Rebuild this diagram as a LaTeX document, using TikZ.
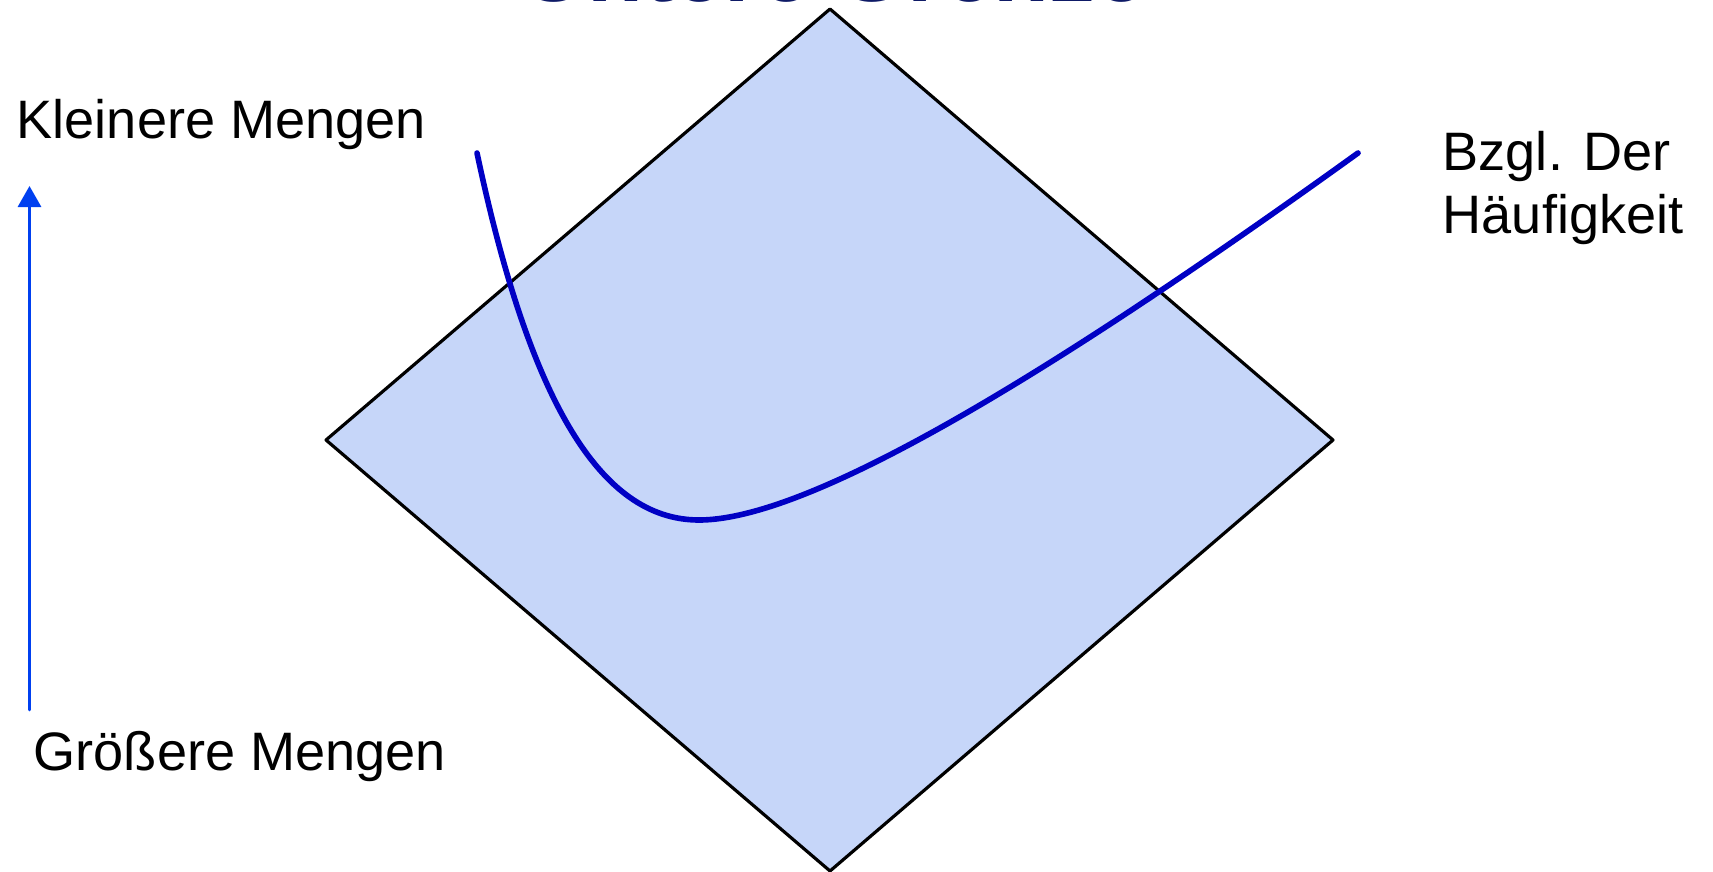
\documentclass[tikz,border=0pt]{standalone}
\usepackage{fontspec}
\setmainfont{Liberation Sans}
\usepackage{xcolor}
\usetikzlibrary{arrows.meta,positioning}

\definecolor{titlenavy}{RGB}{14,26,102}
\definecolor{axisblue}{RGB}{0,64,240}
\definecolor{curveblue}{RGB}{0,0,196}
\definecolor{paperfill}{RGB}{198,214,249}

\begin{document}
\begin{tikzpicture}[
  line cap=round,
  line join=round,
  titletext/.style={font=\fontsize{26pt}{30pt}\selectfont\bfseries,text=titlenavy,inner sep=0pt},
  label/.style={font=\fontsize{15.4pt}{17.9pt}\selectfont,inner sep=0pt,align=left},
  diamondface/.style={draw=black,line width=0.9pt,fill=paperfill},
  scaleline/.style={axisblue,line width=0.8pt,-{Triangle[width=6.6pt,length=6pt]}},
  demandcurve/.style={curveblue,line width=1.6pt}
]
\path[use as bounding box] (0,0) rectangle (17.13,8.71);

\node[titletext,anchor=base] (title) at (8.34,8.69) {Untere Grenze};

\coordinate (top) at (8.30,8.62);
\coordinate (left) at (3.26,4.31);
\coordinate (bottom) at (8.30,0.00);
\coordinate (right) at (13.33,4.31);
\draw[diamondface] (top) -- (left) -- (bottom) -- (right) -- cycle;

\coordinate (cstart) at (4.77,7.18);
\coordinate (cmin) at (6.99,3.51);
\coordinate (cend) at (13.58,7.18);
\draw[demandcurve] (cstart) .. controls (5.29,4.73) and (5.99,3.51) .. (cmin)
  .. controls (8.20,3.51) and (10.90,5.25) .. (cend);

\coordinate (axislow) at (0.295,1.61);
\coordinate (axishigh) at (0.295,6.85);
\draw[scaleline] (axislow) -- (axishigh);

\node[label,anchor=base west] (small) at (0.16,7.33) {Kleinere Mengen};
\node[label,anchor=base west] (large) at (0.33,1.01) {Größere Mengen};
\node[label,anchor=north west] (freq) at (14.42,7.40) {Bzgl. Der\\Häufigkeit};
\end{tikzpicture}
\end{document}
